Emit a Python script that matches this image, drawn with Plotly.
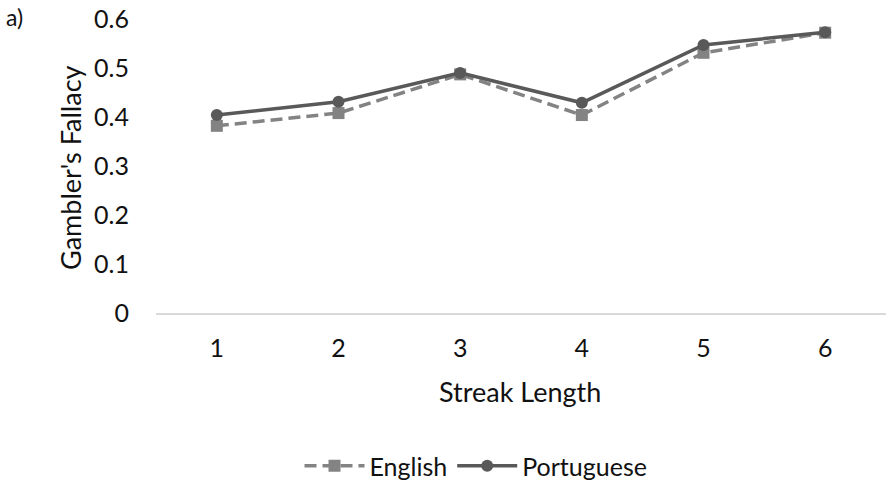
import plotly.graph_objects as go

streak = [1, 2, 3, 4, 5, 6]
english = [0.382, 0.408, 0.487, 0.404, 0.531, 0.572]
portuguese = [0.404, 0.431, 0.490, 0.429, 0.547, 0.573]
y_ticks = [0, 0.1, 0.2, 0.3, 0.4, 0.5, 0.6]
y_tick_text = ["0", "0.1", "0.2", "0.3", "0.4", "0.5", "0.6"]

FONT = "Lato, 'Open Sans', sans-serif"
FW, FH = 886, 482
L, T, W, H = 156, 19, 730, 294


def px(xpage):
    return (xpage - L) / W


def py(ypage):
    return (T + H - ypage) / H


fig = go.Figure()
fig.add_trace(go.Scatter(
    x=streak, y=english, name="English", mode="lines+markers",
    line=dict(color="#838383", width=3.5, dash="12px,6px"),
    marker=dict(symbol="square", size=12, color="#838383"),
))
fig.add_trace(go.Scatter(
    x=streak, y=portuguese, name="Portuguese", mode="lines+markers",
    line=dict(color="#595959", width=3.5),
    marker=dict(symbol="circle", size=12, color="#595959"),
))

fig.update_layout(
    width=FW, height=FH,
    margin=dict(l=L, r=FW - L - W, t=T, b=FH - T - H, autoexpand=False),
    paper_bgcolor="white", plot_bgcolor="white",
    font=dict(family=FONT, size=25, color="#111111"),
    showlegend=True,
    legend=dict(orientation="h", xref="container", yref="container",
                x=476 / FW, y=1 - 466 / FH,
                xanchor="center", yanchor="middle",
                font=dict(size=25, color="#111111"), itemwidth=60),
    xaxis=dict(range=[0.5, 6.5], tickvals=streak, ticktext=[str(s) for s in streak],
               showgrid=False, zeroline=False, showline=True, linecolor="#d9d9d9",
               linewidth=1.5, ticks="", ticklabelstandoff=12, fixedrange=True),
    yaxis=dict(range=[0, 0.6], tickvals=y_ticks, ticktext=y_tick_text,
               showgrid=False, zeroline=False, showline=False, ticks="",
               ticklabelstandoff=26, ticklabeloverflow="allow"),
    annotations=[
        dict(text="a)", x=px(4), y=py(17), xref="paper", yref="paper",
             showarrow=False, font=dict(size=23), xanchor="left", yanchor="middle"),
        dict(text="Streak Length", x=px(520), y=py(391),
             xref="paper", yref="paper", showarrow=False, font=dict(size=27),
             xanchor="center", yanchor="middle"),
        dict(text="Gambler's Fallacy", x=px(70), y=py(168),
             xref="paper", yref="paper", showarrow=False, textangle=-90,
             font=dict(size=27), xanchor="center", yanchor="middle"),
    ],
)

fig.write_html(
    "out.html",
    config={"displayModeBar": False},
    post_script="document.body.style.margin='0';document.body.style.overflow='hidden';",
)
